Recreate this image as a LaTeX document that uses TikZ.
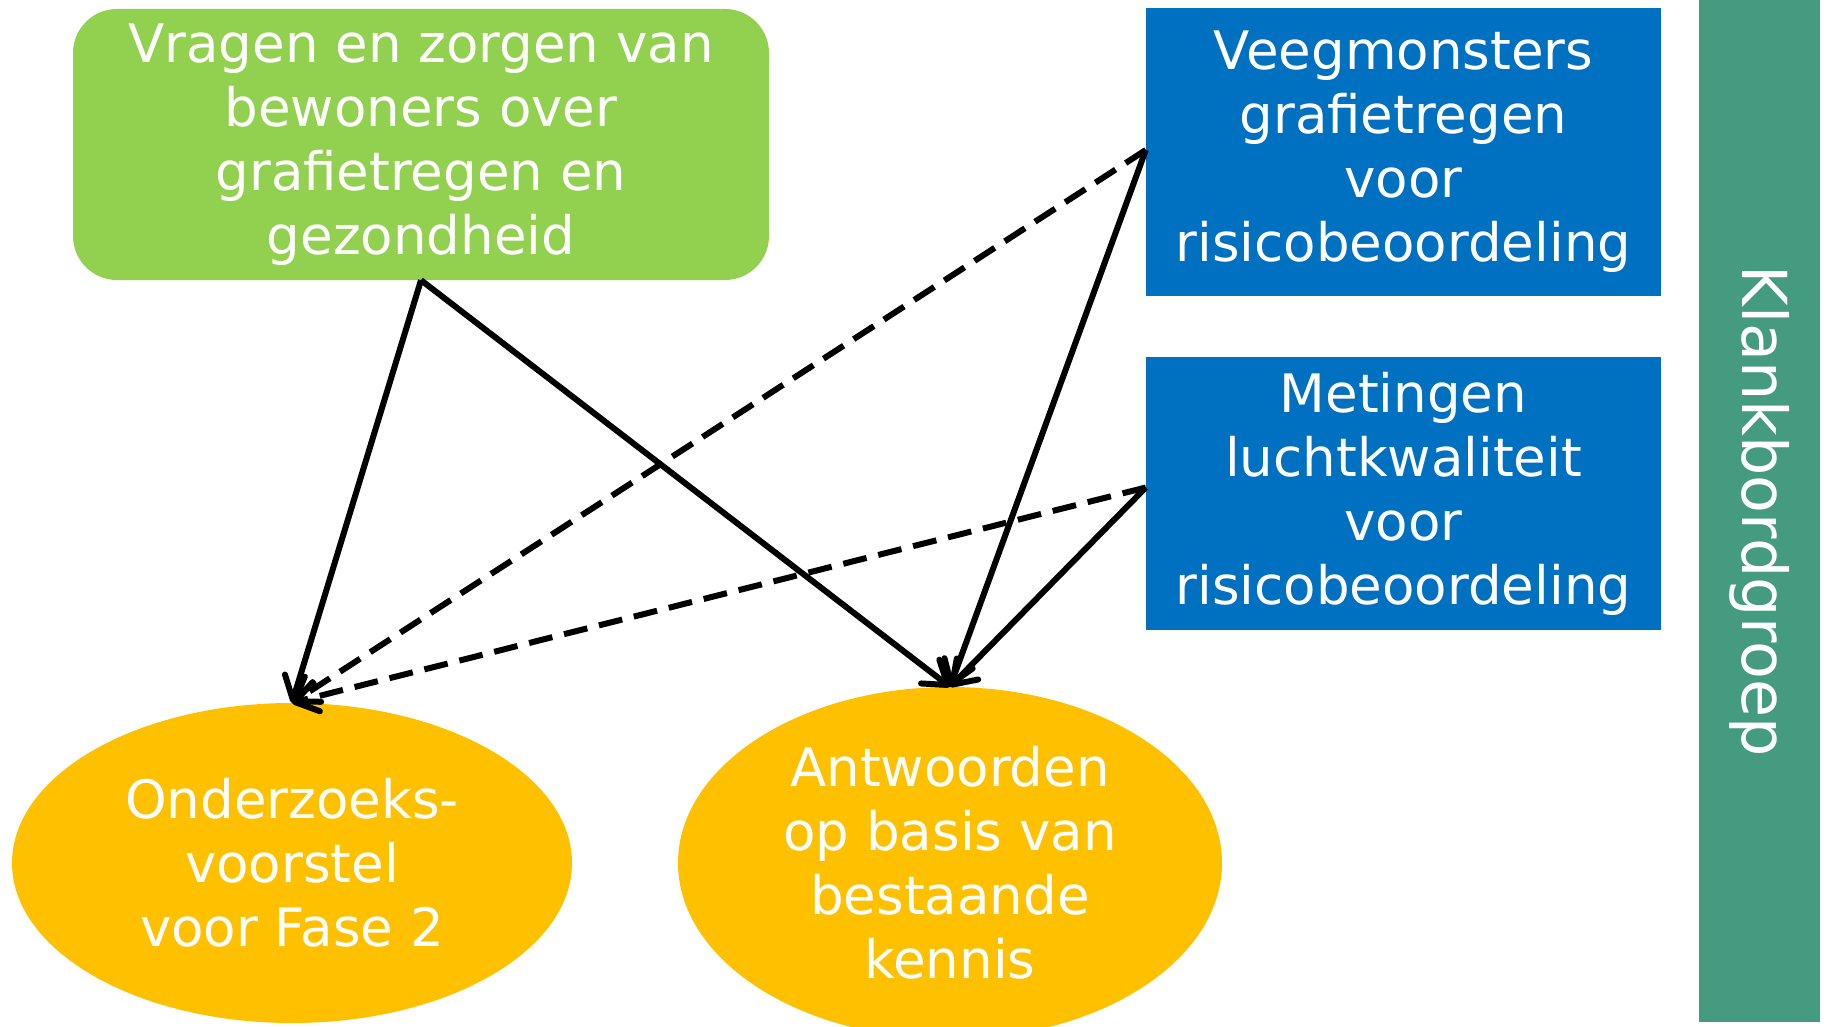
\documentclass[tikz,border=0pt]{standalone}
\usepackage{fontspec}
\setmainfont{DejaVu Sans}
\usetikzlibrary{shapes.geometric,arrows.meta}
\definecolor{vraaggroen}{HTML}{92D050}
\definecolor{meetblauw}{HTML}{0070C0}
\definecolor{antwoordgeel}{HTML}{FFC000}
\definecolor{klankgroen}{HTML}{449B80}
\begin{document}
\begin{tikzpicture}[x=1pt,y=-1pt,
  every node/.style={text=white,align=center,inner sep=0pt,font=\fontsize{53}{64}\selectfont},
  pijl/.style={draw,line width=6pt,-{Straight Barb[length=22pt,width=30pt,line cap=round,line join=round]}},
  stippel/.style={pijl,dash pattern=on 24pt off 12pt}]
\useasboundingbox (0,0) rectangle (1826,1027);
\node[fill=vraaggroen,rounded corners=44pt,minimum width=696pt,minimum height=271pt] (vragen) at (421,144.5) {Vragen en zorgen van\\bewoners over\\grafietregen en\\gezondheid};
\node[fill=meetblauw,minimum width=515pt,minimum height=288pt] (veeg) at (1403.5,152) {Veegmonsters\\grafietregen\\voor\\risicobeoordeling};
\node[fill=meetblauw,minimum width=515pt,minimum height=273pt] (metingen) at (1403.5,493.5) {Metingen\\luchtkwaliteit\\voor\\risicobeoordeling};
\node[fill=antwoordgeel,ellipse,minimum width=560pt,minimum height=320pt] (onderzoek) at (292,863) {Onderzoeks-\\voorstel\\voor Fase 2};
\node[fill=antwoordgeel,ellipse,minimum width=544pt,minimum height=352pt] (antwoord) at (950,863) {Antwoorden\\op basis van\\bestaande\\kennis};
\node[fill=klankgroen,rotate=-90,minimum width=1022pt,minimum height=121pt,font=\fontsize{62}{70}\selectfont] (klankbord) at (1759.5,511) {Klankbordgroep};

\path[pijl] (vragen.south) -- (onderzoek.north);
\path[pijl] (vragen.south) -- (antwoord.north);
\path[stippel] ([yshift=2pt]veeg.west) -- (onderzoek.north);
\path[pijl] ([yshift=2pt]veeg.west) -- (antwoord.north);
\path[stippel] ([yshift=6pt]metingen.west) -- (onderzoek.north);
\path[pijl] ([yshift=6pt]metingen.west) -- (antwoord.north);
\end{tikzpicture}
\end{document}
